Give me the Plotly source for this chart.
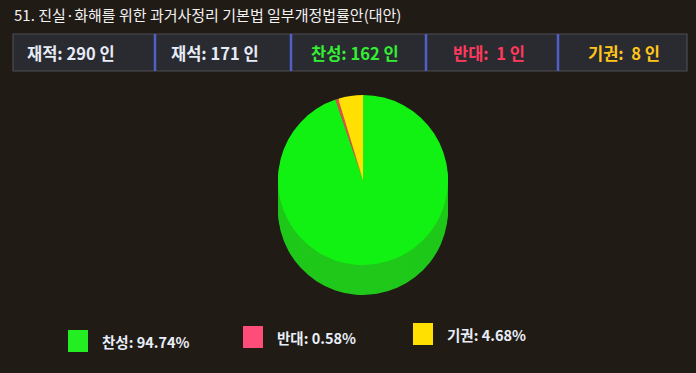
import plotly.graph_objects as go

W, H = 696, 373

# ---- data ----
title = "51. 진실·화해를 위한 과거사정리 기본법 일부개정법률안(대안)"
total_members = 290
present = 171
vote_labels = ["찬성", "반대", "기권"]
vote_counts = [162, 1, 8]
top_colors = ["#12f212", "#d9534f", "#ffe000"]
side_colors = ["#1fc81a", "#a03a3a", "#c9b000"]
legend_colors = ["#22ee22", "#ff4d7a", "#ffe000"]
header_colors = ["#e6ecf7", "#e6ecf7", "#33ee33", "#ff3a5c", "#ffc61a"]

BG = "#211b16"

def px(x):
    return x / W

def py(y):
    return 1 - y / H

fig = go.Figure()

# pie geometry (pixels)
cx, cy, r = 363, 180, 85
depth = 30
step = 2

def dom(offset):
    return dict(x=[px(cx - r), px(cx + r)], y=[py(cy + r + offset), py(cy - r + offset)])

for off in range(depth, 0, -step):
    fig.add_trace(go.Pie(
        labels=vote_labels, values=vote_counts, sort=False,
        direction="clockwise", rotation=0,
        marker=dict(colors=side_colors, line=dict(width=0)),
        textinfo="none", hoverinfo="skip", showlegend=False,
        domain=dom(off),
    ))

fig.add_trace(go.Pie(
    labels=vote_labels, values=vote_counts, sort=False,
    direction="clockwise", rotation=0,
    marker=dict(colors=top_colors, line=dict(width=0)),
    textinfo="none", showlegend=False,
    domain=dom(0),
))

shapes = []
annotations = []

# title
annotations.append(dict(
    text=title, x=px(12), y=py(14), xref="paper", yref="paper",
    xanchor="left", yanchor="middle", showarrow=False,
    font=dict(family="Noto Sans CJK KR", size=15, color="#f2f2f2"),
))

# header bar
bar_top, bar_bot = 34, 71
shapes.append(dict(type="rect", xref="paper", yref="paper",
                   x0=px(13), x1=px(687), y0=py(bar_bot), y1=py(bar_top),
                   fillcolor="#2a2a31", line=dict(color="#4d4c55", width=1.2), layer="below"))
for sx in [155, 291, 426, 558]:
    shapes.append(dict(type="line", xref="paper", yref="paper",
                       x0=px(sx), x1=px(sx), y0=py(bar_bot), y1=py(bar_top),
                       line=dict(color="#5060c8", width=2.5)))

header_texts = [
    f"재적: {total_members} 인",
    f"재석: {present} 인",
] + [f"{lab}: {'' if c >= 10 else ' '}{c} 인".replace(":  ", ":\u00a0\u00a0") for lab, c in zip(vote_labels, vote_counts)]
header_x = [71, 215, 355, 489, 624]
for t, hx, col in zip(header_texts, header_x, header_colors):
    annotations.append(dict(
        text=f"<b>{t}</b>", x=px(hx), y=py(53), xref="paper", yref="paper",
        xanchor="center", yanchor="middle", showarrow=False,
        font=dict(family="Noto Sans CJK KR", size=16.5, color=col),
    ))

# custom legend
total = sum(vote_counts)
leg_sw_x = [68, 243, 413]
leg_sw_y = [330, 326, 323]
for lab, c, col, lx, ly in zip(vote_labels, vote_counts, legend_colors, leg_sw_x, leg_sw_y):
    shapes.append(dict(type="rect", xref="paper", yref="paper",
                       x0=px(lx), x1=px(lx + 20), y0=py(ly + 22), y1=py(ly),
                       fillcolor=col, line=dict(width=0)))
    annotations.append(dict(
        text=f"<b>{lab}: {c / total * 100:.2f}%</b>", x=px(lx + 32), y=py(ly + 11),
        xref="paper", yref="paper", xanchor="left", yanchor="middle", showarrow=False,
        font=dict(family="Noto Sans CJK KR", size=14.5, color="#e8eef8"),
    ))

fig.update_layout(
    width=W, height=H,
    margin=dict(l=0, r=0, t=0, b=0),
    paper_bgcolor=BG, plot_bgcolor=BG,
    shapes=shapes, annotations=annotations,
    showlegend=False,
)

fig.write_html("out.html")
